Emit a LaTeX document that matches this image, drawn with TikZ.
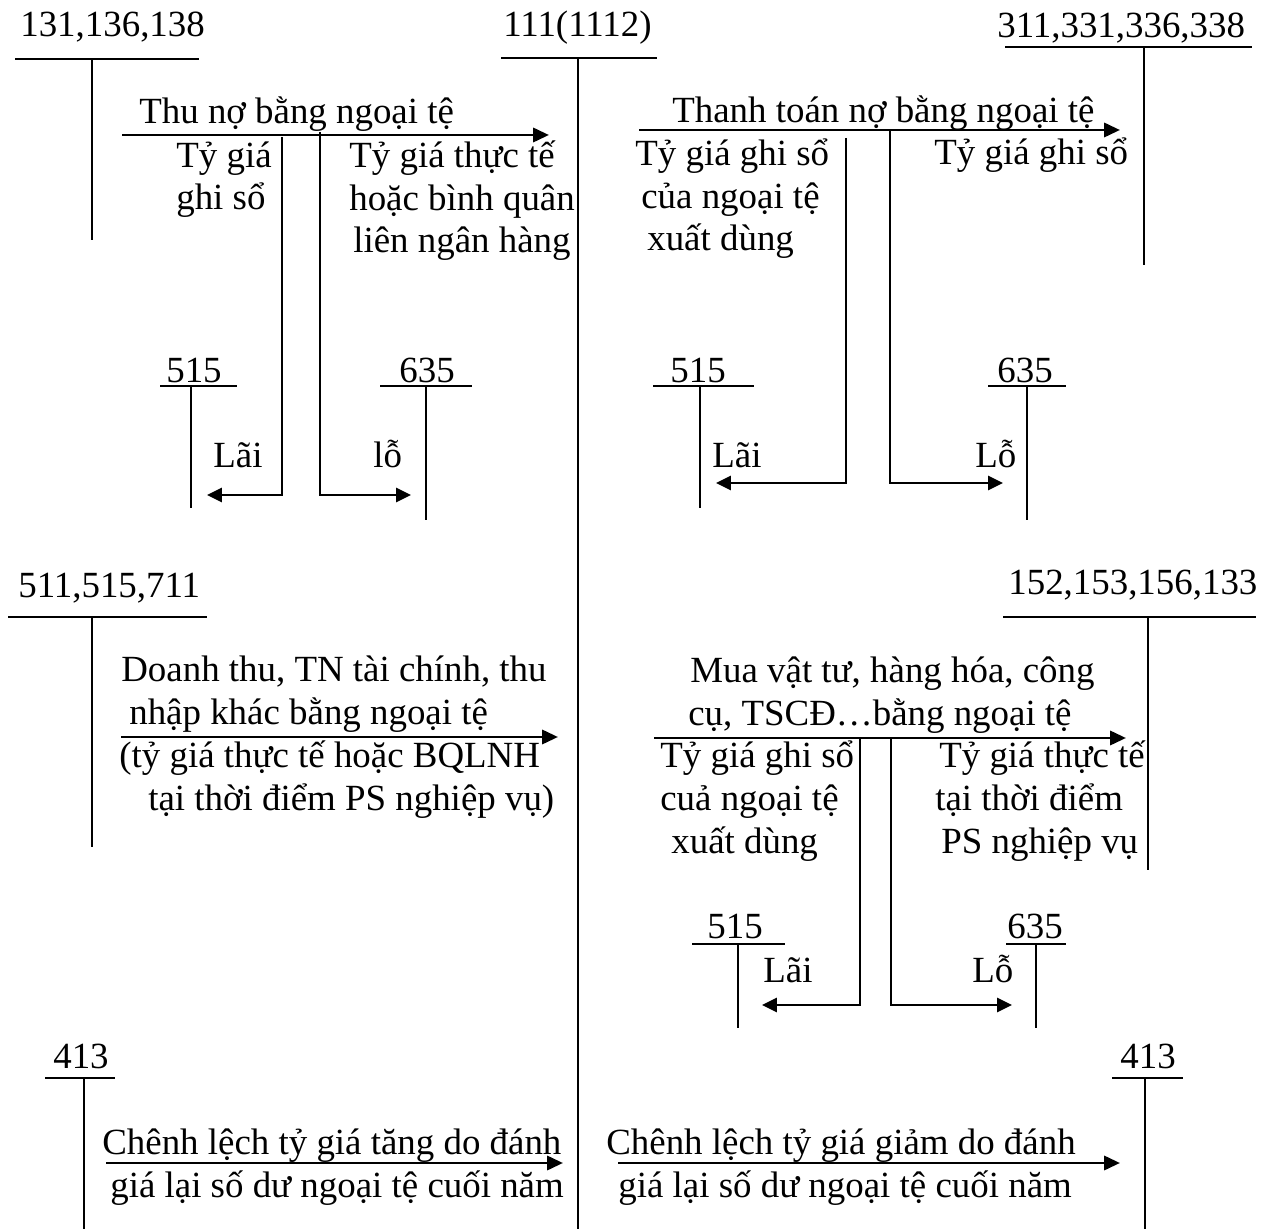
\documentclass[tikz,border=0pt]{standalone}
\usepackage{fontspec}
\setmainfont{Liberation Serif}
\usetikzlibrary{arrows.meta}

\begin{document}
\begin{tikzpicture}[x=0.02cm, y=-0.02cm,
  font=\fontsize{21}{24.4}\selectfont,
  lbl/.style={anchor=base west, inner sep=0pt},
  txt/.style={anchor=base west, inner sep=0pt, align=left},
  tline/.style={line width=1.1pt},
  flow/.style={line width=1.7pt, -{Triangle[length=9pt, width=8pt]}},
  branch/.style={line width=1.3pt, -{Triangle[length=8.5pt, width=8pt]}}]
\useasboundingbox (0,0) rectangle (1272,1229);
% tai khoan 131,136,138
\node[lbl] (k131) at (20,37) {131,136,138};
\draw[tline] (15,59) -- (199,59) (92,59) -- (92,240);
% tai khoan 111(1112)
\node[lbl] (k111) at (503,37) {111(1112)};
\draw[tline] (501,58) -- (657,58) (578,58) -- (578,1229);
% tai khoan 311,331,336,338
\node[lbl] (k311) at (997,38) {311,331,336,338};
\draw[tline] (1005,47) -- (1252,47) (1144,47) -- (1144,265);
% thu no bang ngoai te (nut nhieu dong: base = dong cuoi)
\node[lbl] (thu) at (139,124) {Thu nợ bằng ngoại tệ};
\coordinate (thuA) at (122,135);
\coordinate (thuB) at (549,135);
\draw[flow] (thuA) -- (thuB);
\node[txt] (tgA) at (176,210) {Tỷ giá\\ghi sổ};
\node[txt] (tgB) at (349,253) {Tỷ giá thực tế\\hoặc bình quân\\\hspace*{0.08cm}liên ngân hàng};
\coordinate (laiA1) at (282,137);
\coordinate (laiA2) at (207,495);
\coordinate (loA1) at (320,132);
\coordinate (loA2) at (411,495);
\draw[branch] (laiA1) |- (laiA2);
\draw[branch] (loA1) |- (loA2);
\node[lbl] (k515a) at (166,383) {515};
\draw[tline] (160,386) -- (237,386) (191,386) -- (191,508);
\node[lbl] (k635a) at (399,383) {635};
\draw[tline] (380,386) -- (472,386) (426,386) -- (426,520);
\node[lbl] (laiA) at (213,468) {Lãi};
\node[lbl] (loA) at (373,468) {lỗ};
% thanh toan no bang ngoai te
\node[lbl] (tt) at (672,123) {Thanh toán nợ bằng ngoại tệ};
\coordinate (ttA) at (639,130);
\coordinate (ttB) at (1120,130);
\draw[flow] (ttA) -- (ttB);
\node[txt] (tgC) at (635,251) {Tỷ giá ghi sổ\\\hspace*{0.12cm}của ngoại tệ\\\hspace*{0.24cm}xuất dùng};
\node[lbl] (tgD) at (934,165) {Tỷ giá ghi sổ};
\coordinate (laiB1) at (846,138);
\coordinate (laiB2) at (716,483);
\coordinate (loB1) at (890,130);
\coordinate (loB2) at (1003,483);
\draw[branch] (laiB1) |- (laiB2);
\draw[branch] (loB1) |- (loB2);
\node[lbl] (k515b) at (670,383) {515};
\draw[tline] (653,386) -- (754,386) (700,386) -- (700,508);
\node[lbl] (k635b) at (997,383) {635};
\draw[tline] (988,386) -- (1066,386) (1027,386) -- (1027,520);
\node[lbl] (laiB) at (712,468) {Lãi};
\node[lbl] (loB) at (975,468) {Lỗ};
% doanh thu bang ngoai te
\node[lbl] (k511) at (18,598) {511,515,711};
\draw[tline] (8,617) -- (207,617) (92,617) -- (92,847);
\node[txt] (dt) at (119,810) {\hspace*{0.04cm}Doanh thu, TN tài chính, thu\\\hspace*{0.2cm}nhập khác bằng ngoại tệ\\(tỷ giá thực tế hoặc BQLNH\\\hspace*{0.58cm}tại thời điểm PS nghiệp vụ)};
\coordinate (dtA) at (121,737);
\coordinate (dtB) at (558,737);
\draw[flow] (dtA) -- (dtB);
% mua vat tu bang ngoai te
\node[lbl] (k152) at (1008,595) {152,153,156,133};
\draw[tline] (1003,617) -- (1256,617) (1148,617) -- (1148,870);
\node[txt] (mua) at (688,725) {\hspace*{0.04cm}Mua vật tư, hàng hóa, công\\cụ, TSCĐ…bằng ngoại tệ};
\coordinate (muaA) at (654,738);
\coordinate (muaB) at (1126,738);
\draw[flow] (muaA) -- (muaB);
\node[txt] (tgE) at (660,853) {Tỷ giá ghi sổ\\cuả ngoại tệ\\\hspace*{0.22cm}xuất dùng};
\node[txt] (tgF) at (935,853) {\hspace*{0.08cm}Tỷ giá thực tế\\tại thời điểm\\\hspace*{0.12cm}PS nghiệp vụ};
\coordinate (laiC1) at (860,738);
\coordinate (laiC2) at (762,1005);
\coordinate (loC1) at (891,738);
\coordinate (loC2) at (1012,1005);
\draw[branch] (laiC1) |- (laiC2);
\draw[branch] (loC1) |- (loC2);
\node[lbl] (k515c) at (707,938) {515};
\draw[tline] (692,944) -- (785,944) (738,944) -- (738,1028);
\node[lbl] (k635c) at (1007,938) {635};
\draw[tline] (1006,944) -- (1066,944) (1036,944) -- (1036,1028);
\node[lbl] (laiC) at (763,982) {Lãi};
\node[lbl] (loC) at (972,982) {Lỗ};
% chenh lech ty gia cuoi nam
\node[lbl] (k413a) at (53,1068) {413};
\draw[tline] (45,1078) -- (115,1078) (84,1078) -- (84,1229);
\node[txt] (clA) at (102,1197) {Chênh lệch tỷ giá tăng do đánh\\\hspace*{0.16cm}giá lại số dư ngoại tệ cuối năm};
\coordinate (clA1) at (106,1163);
\coordinate (clA2) at (563,1163);
\draw[flow] (clA1) -- (clA2);
\node[lbl] (k413b) at (1120,1068) {413};
\draw[tline] (1112,1078) -- (1183,1078) (1145,1078) -- (1145,1229);
\node[txt] (clB) at (606,1197) {Chênh lệch tỷ giá giảm do đánh\\\hspace*{0.24cm}giá lại số dư ngoại tệ cuối năm};
\coordinate (clB1) at (618,1163);
\coordinate (clB2) at (1120,1163);
\draw[flow] (clB1) -- (clB2);
\end{tikzpicture}
\end{document}
